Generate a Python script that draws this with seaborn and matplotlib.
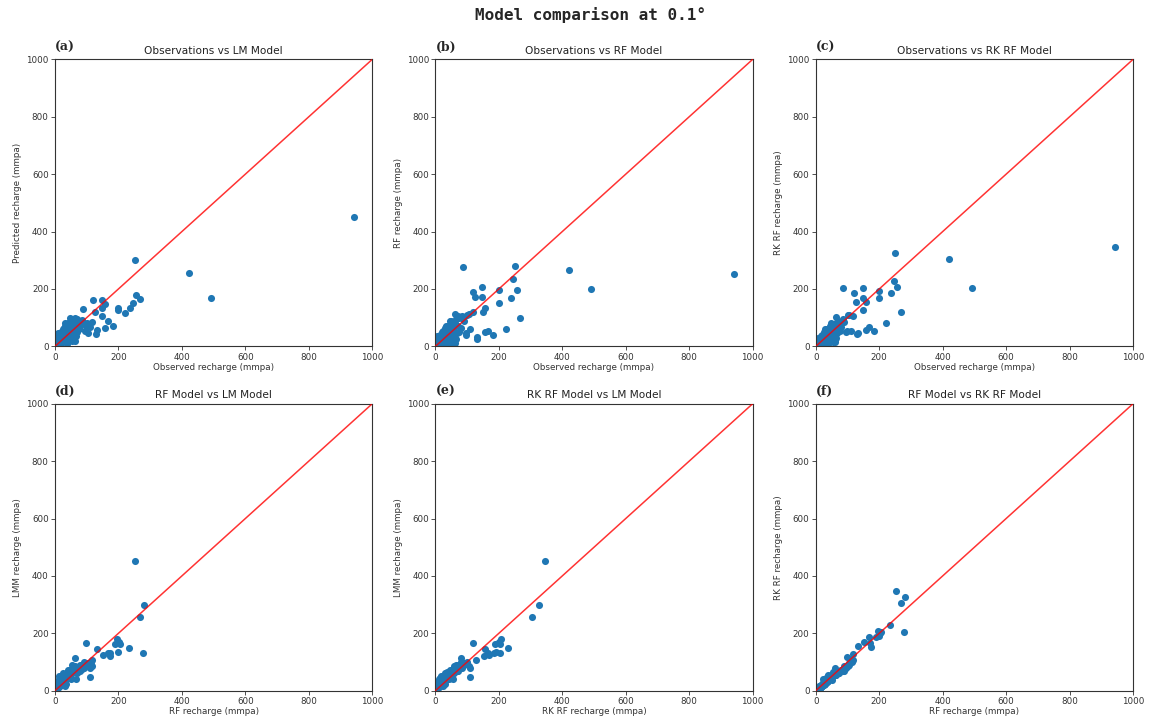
import numpy as np
import pandas as pd
import matplotlib
matplotlib.use("Agg")
import matplotlib.pyplot as plt
import seaborn as sns

# ---- data (one row per site) ----
obs = [942, 421, 492, 251, 256, 267, 245, 237, 221, 200, 200, 183, 167, 157, 148, 157, 148, 149,
       120, 126, 132, 130, 87, 118, 110, 97, 95, 63, 100, 105,
       5, 8, 10, 12, 15, 18, 20, 22, 25, 28, 30, 32, 35, 38, 40, 42, 45, 48, 50, 52, 55, 58, 60, 62,
       65, 68, 70, 35, 45, 55, 60, 40, 50, 25, 30, 75, 80, 85, 90, 70, 2, 3, 6, 15, 20, 10, 48, 65, 75, 55,
       5, 8, 12, 18, 22, 28, 33, 38, 44, 52, 58, 62, 15, 20, 45]
lm = [451, 257, 168, 300, 179, 165, 150, 132, 115, 134, 126, 71, 90, 63, 162, 147, 133, 106,
      162, 121, 56, 42, 131, 86, 66, 72, 55, 100, 80, 48,
      10, 20, 35, 5, 45, 25, 12, 40, 30, 55, 18, 70, 48, 8, 80, 35, 60, 22, 75, 45, 90, 30, 65, 18,
      85, 50, 78, 78, 82, 20, 40, 25, 55, 60, 80, 88, 70, 92, 80, 95, 30, 15, 42, 2, 50, 22, 100, 35, 60, 62,
      40, 45, 30, 38, 15, 65, 50, 60, 72, 85, 55, 70, 25, 32, 40]
rf = [252, 267, 201, 280, 195, 98, 234, 168, 62, 198, 151, 40, 55, 50, 206, 133, 172, 118,
      189, 173, 33, 24, 277, 118, 59, 47, 39, 113, 109, 111,
      8, 15, 30, 3, 40, 20, 10, 50, 25, 45, 15, 60, 35, 5, 70, 28, 55, 15, 85, 40, 80, 20, 55, 12,
      95, 45, 70, 72, 88, 10, 18, 8, 40, 55, 65, 100, 65, 105, 90, 105, 25, 12, 35, 2, 42, 15, 90, 25, 50, 70,
      12, 20, 5, 22, 30, 40, 12, 25, 48, 62, 30, 80, 35, 8, 65]
rk = [347, 304, 202, 326, 208, 118, 229, 186, 80, 192, 170, 53, 66, 56, 204, 155, 167, 128,
      187, 153, 45, 42, 205, 106, 54, 53, 50, 101, 108, 110,
      6, 12, 25, 4, 35, 18, 10, 38, 28, 45, 14, 55, 40, 8, 62, 30, 50, 18, 70, 42, 72, 25, 58, 15,
      80, 48, 68, 60, 70, 15, 22, 12, 45, 50, 62, 85, 68, 95, 85, 90, 20, 10, 30, 3, 40, 14, 80, 28, 55, 60,
      10, 15, 8, 20, 25, 38, 18, 30, 45, 60, 35, 72, 30, 10, 55]

panel_letters = ["(a)", "(b)", "(c)", "(d)", "(e)", "(f)"]
panel_titles = ["Observations vs LM Model", "Observations vs RF Model", "Observations vs RK RF Model",
                "RF Model vs LM Model", "RK RF Model vs LM Model", "RF Model vs RK RF Model"]
x_labels = ["Observed recharge (mmpa)", "Observed recharge (mmpa)", "Observed recharge (mmpa)",
            "RF recharge (mmpa)", "RK RF recharge (mmpa)", "RF recharge (mmpa)"]
y_labels = ["Predicted recharge (mmpa)", "RF recharge (mmpa)", "RK RF recharge (mmpa)",
            "LMM recharge (mmpa)", "LMM recharge (mmpa)", "RK RF recharge (mmpa)"]
axis_limits = [0, 1000]
tick_values = [0, 200, 400, 600, 800, 1000]

df = pd.DataFrame({"obs": obs, "lm": lm, "rf": rf, "rk": rk})
pairs = [("obs", "lm"), ("obs", "rf"), ("obs", "rk"), ("rf", "lm"), ("rk", "lm"), ("rf", "rk")]

sns.set_theme(style="ticks")
plt.rcParams["font.family"] = ["DejaVu Sans"]

fig, axes = plt.subplots(2, 3, figsize=(11.53, 7.24), dpi=100)
fig.subplots_adjust(left=0.0477, right=0.9827, top=0.918, bottom=0.046, wspace=0.199, hspace=0.2)

for i, ax in enumerate(axes.flat):
    xc, yc = pairs[i]
    sns.scatterplot(data=df, x=xc, y=yc, ax=ax, color="#1f77b4", s=26, linewidth=0, zorder=2)
    ax.plot(axis_limits, axis_limits, color="red", lw=1.1, alpha=0.8, zorder=3)
    ax.set_xlim(axis_limits)
    ax.set_ylim(axis_limits)
    ax.set_xticks(tick_values)
    ax.set_yticks(tick_values)
    ax.tick_params(labelsize=6.3, length=3, width=0.6, pad=1.5, colors="#333333")
    for sp in ax.spines.values():
        sp.set_linewidth(0.8)
        sp.set_color("#333333")
    ax.set_xlabel(x_labels[i], fontsize=6.3, labelpad=1, color="#333333")
    ax.set_ylabel(y_labels[i], fontsize=6.3, labelpad=3, color="#333333")
    ax.set_title(panel_titles[i], fontsize=7.6, pad=4, color="#222222")
    ax.text(0.0, 1.02, panel_letters[i], transform=ax.transAxes, fontsize=9,
            fontweight="bold", family="DejaVu Serif", ha="left", va="bottom")

fig.suptitle("Model comparison at 0.1°", fontsize=11.5, fontweight="bold",
             family="DejaVu Sans Mono", x=0.512, y=0.99)

fig.savefig("out.png", dpi=100)
